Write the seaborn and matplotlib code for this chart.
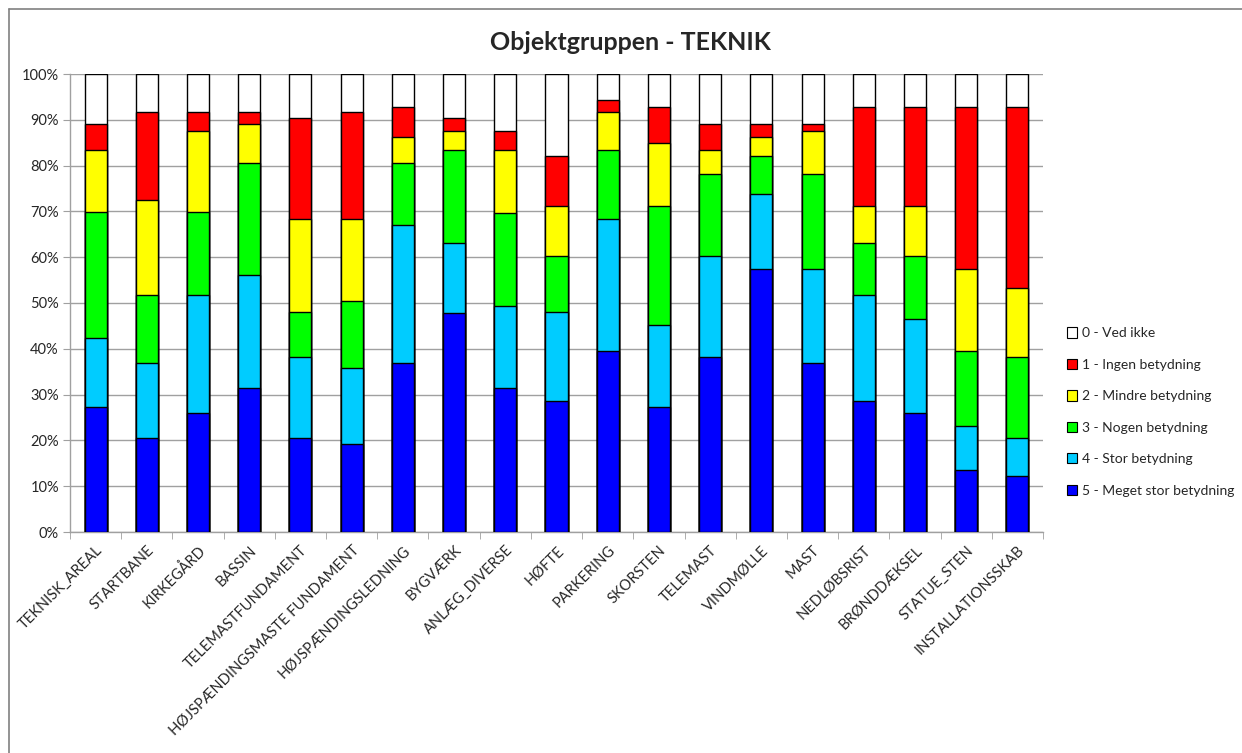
import matplotlib
matplotlib.use("Agg")
import matplotlib.pyplot as plt
from matplotlib.patches import Patch
from matplotlib.lines import Line2D
import seaborn as sns
import numpy as np
import pandas as pd

categories = ["TEKNISK_AREAL", "STARTBANE", "KIRKEGÅRD", "BASSIN", "TELEMASTFUNDAMENT",
              "HØJSPÆNDINGSMASTE FUNDAMENT", "HØJSPÆNDINGSLEDNING", "BYGVÆRK", "ANLÆG_DIVERSE",
              "HØFTE", "PARKERING", "SKORSTEN", "TELEMAST", "VINDMØLLE", "MAST", "NEDLØBSRIST",
              "BRØNDDÆKSEL", "STATUE_STEN", "INSTALLATIONSSKAB"]

# percentages per category (stack order bottom -> top)
s5_meget_stor = [27.2, 20.6, 25.9, 31.4, 20.6, 19.2, 36.8, 47.9, 31.4, 28.7, 39.6, 27.2, 38.2, 57.4, 36.8, 28.7, 25.9, 13.6, 12.2]
s4_stor = [15.2, 16.2, 25.9, 24.7, 17.6, 16.5, 30.2, 15.1, 17.9, 19.3, 28.7, 17.9, 22.0, 16.5, 20.6, 23.1, 20.7, 9.5, 8.4]
s3_nogen = [27.4, 15.0, 18.0, 24.5, 9.8, 14.8, 13.6, 20.5, 20.4, 12.3, 15.2, 26.1, 17.9, 8.1, 20.7, 11.2, 13.6, 16.5, 17.6]
s2_mindre = [13.6, 20.7, 17.8, 8.5, 20.4, 17.9, 5.6, 4.1, 13.7, 10.8, 8.3, 13.7, 5.3, 4.2, 9.5, 8.1, 10.9, 17.8, 15.0]
s1_ingen = [5.7, 19.3, 4.2, 2.7, 22.0, 23.4, 6.7, 2.8, 4.2, 10.9, 2.6, 8.0, 5.7, 2.9, 1.5, 21.8, 21.8, 35.5, 39.7]
s0_ved_ikke = [10.9, 8.2, 8.2, 8.2, 9.6, 8.2, 7.1, 9.6, 12.4, 18.0, 5.6, 7.1, 10.9, 10.9, 10.9, 7.1, 7.1, 7.1, 7.1]

series_names = ["5 - Meget stor betydning", "4 - Stor betydning", "3 - Nogen betydning",
                "2 - Mindre betydning", "1 - Ingen betydning", "0 - Ved ikke"]
series_values = [s5_meget_stor, s4_stor, s3_nogen, s2_mindre, s1_ingen, s0_ved_ikke]
colors = ["#0000FF", "#00CCFF", "#00FF00", "#FFFF00", "#FF0000", "#FFFFFF"]

sns.set_style("white")
plt.rcParams['font.family'] = ['Lato', 'DejaVu Sans']

fig = plt.figure(figsize=(12.42, 7.53), dpi=100)
ax = fig.add_axes([70/1242, 1-532/753, (1043-70)/1242, (532-74)/753])

# normalise to 100%
vals = np.array(series_values, dtype=float)
vals = vals / vals.sum(axis=0) * 100.0
cum = np.cumsum(vals, axis=0)

# draw from top layer down so that lower layers overlay
for i in range(len(series_names) - 1, -1, -1):
    df = pd.DataFrame({"cat": categories, "val": cum[i]})
    sns.barplot(data=df, x="cat", y="val", color=colors[i], saturation=1,
                width=0.43, edgecolor="black", linewidth=1.0, ax=ax, zorder=3)

ax.set_xlim(-0.5, len(categories) - 0.5)
ax.set_ylim(0, 100)
ax.set_yticks(np.arange(0, 101, 10))
ax.set_yticklabels([f"{v}%" for v in range(0, 101, 10)], fontsize=10.5)
ax.yaxis.grid(True, color="#A0A0A0", linewidth=1.0, zorder=0)
ax.set_axisbelow(True)
ax.set_xlabel("")
ax.set_ylabel("")

for side in ["top", "right"]:
    ax.spines[side].set_visible(False)
for side in ["left", "bottom"]:
    ax.spines[side].set_color("#A0A0A0")
    ax.spines[side].set_linewidth(1.0)

ax.tick_params(axis="y", which="major", length=5, color="#A0A0A0", left=True, pad=3)
ax.set_xticks(np.arange(len(categories)))
ax.set_xticklabels(categories, rotation=45, ha="right", va="top",
                   rotation_mode="anchor", fontsize=10.5)
ax.tick_params(axis="x", which="major", length=0, pad=8)
ax.set_xticks(np.arange(len(categories) + 1) - 0.5, minor=True)
ax.tick_params(axis="x", which="minor", length=5, color="#A0A0A0", bottom=True)

fig.text(630/1242, 1-42/753, "Objektgruppen - TEKNIK", ha="center", va="center",
         fontsize=18, fontweight="bold")

handles = [Patch(facecolor=colors[i], edgecolor="black", linewidth=0.8, label=series_names[i])
           for i in range(len(series_names) - 1, -1, -1)]
fig.legend(handles=handles, loc="center left", bbox_to_anchor=(1054/1242, 1-412/753),
           frameon=False, fontsize=10, handlelength=0.75, handleheight=0.75,
           handletextpad=0.4, labelspacing=1.4)

# outer chart border (left and top)
fig.add_artist(Line2D([8.5/1242, 8.5/1242], [0, 1-8.5/753], transform=fig.transFigure,
                      color="#808080", linewidth=1.2))
fig.add_artist(Line2D([8.5/1242, 1], [1-8.5/753, 1-8.5/753], transform=fig.transFigure,
                      color="#808080", linewidth=1.2))

fig.savefig("out.png", dpi=100)
